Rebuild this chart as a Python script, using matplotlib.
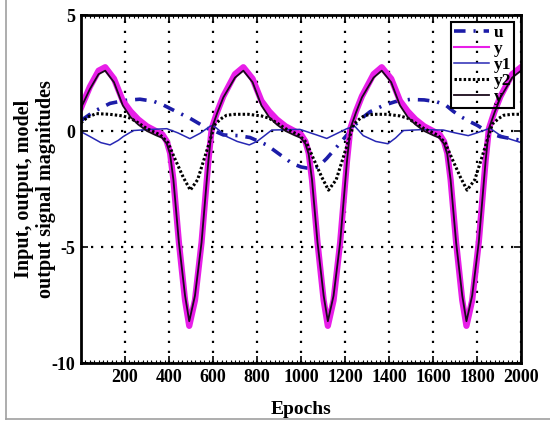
import matplotlib
matplotlib.use("Agg")
import matplotlib.pyplot as plt
from matplotlib.ticker import MultipleLocator
from matplotlib.lines import Line2D

plt.rcParams["font.family"] = ["Liberation Serif", "DejaVu Serif"]
plt.rcParams["font.weight"] = "bold"

# input u
u_x = [0, 60, 132, 200, 268, 330, 374, 430, 495, 540, 571, 600, 647, 715, 768,
       844, 909, 960, 1000, 1041, 1079, 1117, 1177, 1215, 1238, 1283, 1314, 1374,
       1430, 1495, 1560, 1617, 1660, 1692, 1730, 1768, 1800, 1859, 1905, 1950, 2000]
u_y = [0.45, 0.85, 1.19, 1.32, 1.37, 1.28, 1.12, 0.85, 0.55, 0.3, 0.12, 0.03, -0.17,
       -0.2, -0.28, -0.6, -1.05, -1.4, -1.55, -1.62, -1.54, -1.18, -0.53, -0.1, 0.19,
       0.6, 0.83, 1.1, 1.27, 1.36, 1.34, 1.26, 1.1, 0.85, 0.6, 0.4, 0.25, -0.1, -0.24,
       -0.32, -0.4]

# measured output y
y_x = [0, 40, 80, 110, 150, 190, 225, 260, 300, 340, 370, 390, 405, 420, 445, 473,
       492, 518, 548, 579, 594, 620, 647, 700, 738, 780, 820, 855, 890, 930, 970,
       1000, 1020, 1035, 1050, 1075, 1103, 1122, 1148, 1178, 1209, 1224, 1250, 1277,
       1330, 1367, 1410, 1450, 1485, 1520, 1560, 1600, 1630, 1650, 1665, 1680, 1705,
       1733, 1752, 1778, 1808, 1839, 1854, 1880, 1907, 1960, 2000]
y_y = [1.0, 1.9, 2.6, 2.75, 2.25, 1.3, 0.85, 0.5, 0.2, 0.0, -0.15, -0.45, -0.95,
       -2.1, -4.8, -7.3, -8.4, -7.3, -4.8, -1.3, 0.1, 0.85, 1.5, 2.45, 2.75, 2.25,
       1.3, 0.85, 0.5, 0.2, 0.0, -0.15, -0.45, -0.95, -2.1, -4.8, -7.3, -8.4, -7.3,
       -4.8, -1.3, 0.1, 0.85, 1.5, 2.45, 2.75, 2.25, 1.3, 0.85, 0.5, 0.2, 0.0, -0.15,
       -0.45, -0.95, -2.1, -4.8, -7.3, -8.4, -7.3, -4.8, -1.3, 0.1, 0.85, 1.5, 2.45,
       2.75]

# model output y1
y1_x = [0, 41, 90, 132, 170, 192, 238, 300, 390, 440, 495, 541, 586, 601, 662, 710,
        765, 800, 829, 867, 950, 995, 1071, 1117, 1165, 1208, 1245, 1283, 1340, 1395,
        1430, 1465, 1550, 1648, 1700, 1760, 1800, 1859, 1900, 1950, 2000]
y1_y = [-0.03, -0.24, -0.5, -0.6, -0.4, -0.24, 0.02, 0.06, 0.1, -0.08, -0.33, -0.1,
        0.2, 0.24, -0.24, -0.45, -0.6, -0.45, -0.24, 0.04, 0.06, 0.07, -0.17, -0.32,
        -0.1, 0.1, 0.2, -0.2, -0.45, -0.55, -0.3, 0.02, 0.06, 0.04, -0.08, -0.2, -0.08,
        0.12, -0.15, -0.35, -0.5]

# model output y2
y2_x = [0, 30, 70, 130, 190, 225, 260, 300, 360, 395, 427, 465, 497, 530, 560, 580,
        596, 610, 640, 662, 700, 760, 820, 855, 890, 930, 990, 1025, 1057, 1095, 1125,
        1160, 1190, 1210, 1226, 1240, 1270, 1292, 1330, 1390, 1450, 1485, 1520, 1560,
        1620, 1655, 1687, 1725, 1755, 1790, 1820, 1840, 1856, 1870, 1900, 1922, 1960,
        2000]
y2_y = [0.35, 0.6, 0.75, 0.72, 0.65, 0.55, 0.35, 0.1, -0.17, -0.5, -1.2, -2.0, -2.55,
        -2.1, -1.2, -0.6, -0.1, 0.3, 0.55, 0.68, 0.72, 0.72, 0.65, 0.55, 0.35, 0.1,
        -0.17, -0.5, -1.2, -2.0, -2.55, -2.1, -1.2, -0.6, -0.1, 0.3, 0.55, 0.68, 0.72,
        0.72, 0.65, 0.55, 0.35, 0.1, -0.17, -0.5, -1.2, -2.0, -2.55, -2.1, -1.2, -0.6,
        -0.1, 0.3, 0.55, 0.68, 0.72, 0.72]

# model output (total)
ym_x = [0, 40, 80, 110, 150, 190, 225, 260, 300, 340, 370, 390, 405, 420, 445, 473,
        492, 518, 548, 579, 594, 620, 647, 700, 738, 780, 820, 855, 890, 930, 970,
        1000, 1020, 1035, 1050, 1075, 1103, 1122, 1148, 1178, 1209, 1224, 1250, 1277,
        1330, 1367, 1410, 1450, 1485, 1520, 1560, 1600, 1630, 1650, 1665, 1680, 1705,
        1733, 1752, 1778, 1808, 1839, 1854, 1880, 1907, 1960, 2000]
ym_y = [1.0, 1.8, 2.45, 2.6, 2.1, 1.1, 0.6, 0.28, 0.0, -0.18, -0.3, -0.55, -1.0,
        -2.1, -4.8, -7.1, -8.2, -7.1, -4.8, -1.3, 0.1, 0.8, 1.45, 2.3, 2.6, 2.1, 1.1,
        0.6, 0.28, 0.0, -0.18, -0.3, -0.55, -1.0, -2.1, -4.8, -7.1, -8.2, -7.1, -4.8,
        -1.3, 0.1, 0.8, 1.45, 2.3, 2.6, 2.1, 1.1, 0.6, 0.28, 0.0, -0.18, -0.3, -0.55,
        -1.0, -2.1, -4.8, -7.1, -8.2, -7.1, -4.8, -1.3, 0.1, 0.8, 1.45, 2.3, 2.6]

x_ticks = [200, 400, 600, 800, 1000, 1200, 1400, 1600, 1800, 2000]
y_ticks = [-10, -5, 0, 5]

fig = plt.figure(figsize=(5.5, 4.21), dpi=100)
ax = fig.add_axes([81 / 550, 1 - 363 / 421, 440 / 550, 348 / 421])

ax.plot(u_x, u_y, color="#1c1ca8", lw=2.6, linestyle=(0, (3.2, 2.2, 0.6, 2.2)), label="u")
ax.plot(y_x, y_y, color="#e81ee8", lw=4.5, solid_joinstyle="round", label="y")
ax.plot(y1_x, y1_y, color="#2828b4", lw=1.1, label="y1")
ax.plot(y2_x, y2_y, color="black", lw=2.2, linestyle=(0, (0.8, 0.7)), label="y2")
ax.plot(ym_x, ym_y, color="#1a0a1a", lw=1.3, label="y")

ax.set_xlim(0, 2000)
ax.set_ylim(-10, 5)
ax.set_xticks(x_ticks)
ax.set_yticks(y_ticks)
ax.set_yticklabels(["-10", "-5", "0", "5"])
ax.xaxis.set_minor_locator(MultipleLocator(20))
ax.tick_params(which="both", direction="in", top=True, right=True, labelsize=13,
               width=1.2, pad=4)
ax.tick_params(which="major", length=5)
ax.tick_params(which="minor", length=2.5, width=0.8)
ax.grid(True, which="major", color="black", lw=1.6, linestyle=(0, (1, 3.5)))
for s in ax.spines.values():
    s.set_linewidth(2)

ax.set_xlabel("Epochs", fontsize=14, fontweight="bold", labelpad=11)
ax.set_ylabel("Input, output, model\noutput signal magnitudes", fontsize=14.5,
              fontweight="bold", labelpad=-3, linespacing=1.12)

leg = ax.legend(loc="upper right", fontsize=12.5, frameon=True, fancybox=False,
                framealpha=1, edgecolor="black", handlelength=2.0, handletextpad=0.3,
                labelspacing=0.0, borderpad=0.15, borderaxespad=0.4)
leg.get_frame().set_facecolor("none")
leg.get_frame().set_linewidth(1.5)
leg.get_lines()[1].set_linewidth(1.5)

# grey frame of the original screenshot
fig.add_artist(Line2D([6 / 550, 6 / 550], [2 / 421, 1], color="#a0a0a0", lw=1.2))
fig.add_artist(Line2D([6 / 550, 1], [2 / 421, 2 / 421], color="#a0a0a0", lw=1.2))

fig.savefig("out.png", dpi=100)
